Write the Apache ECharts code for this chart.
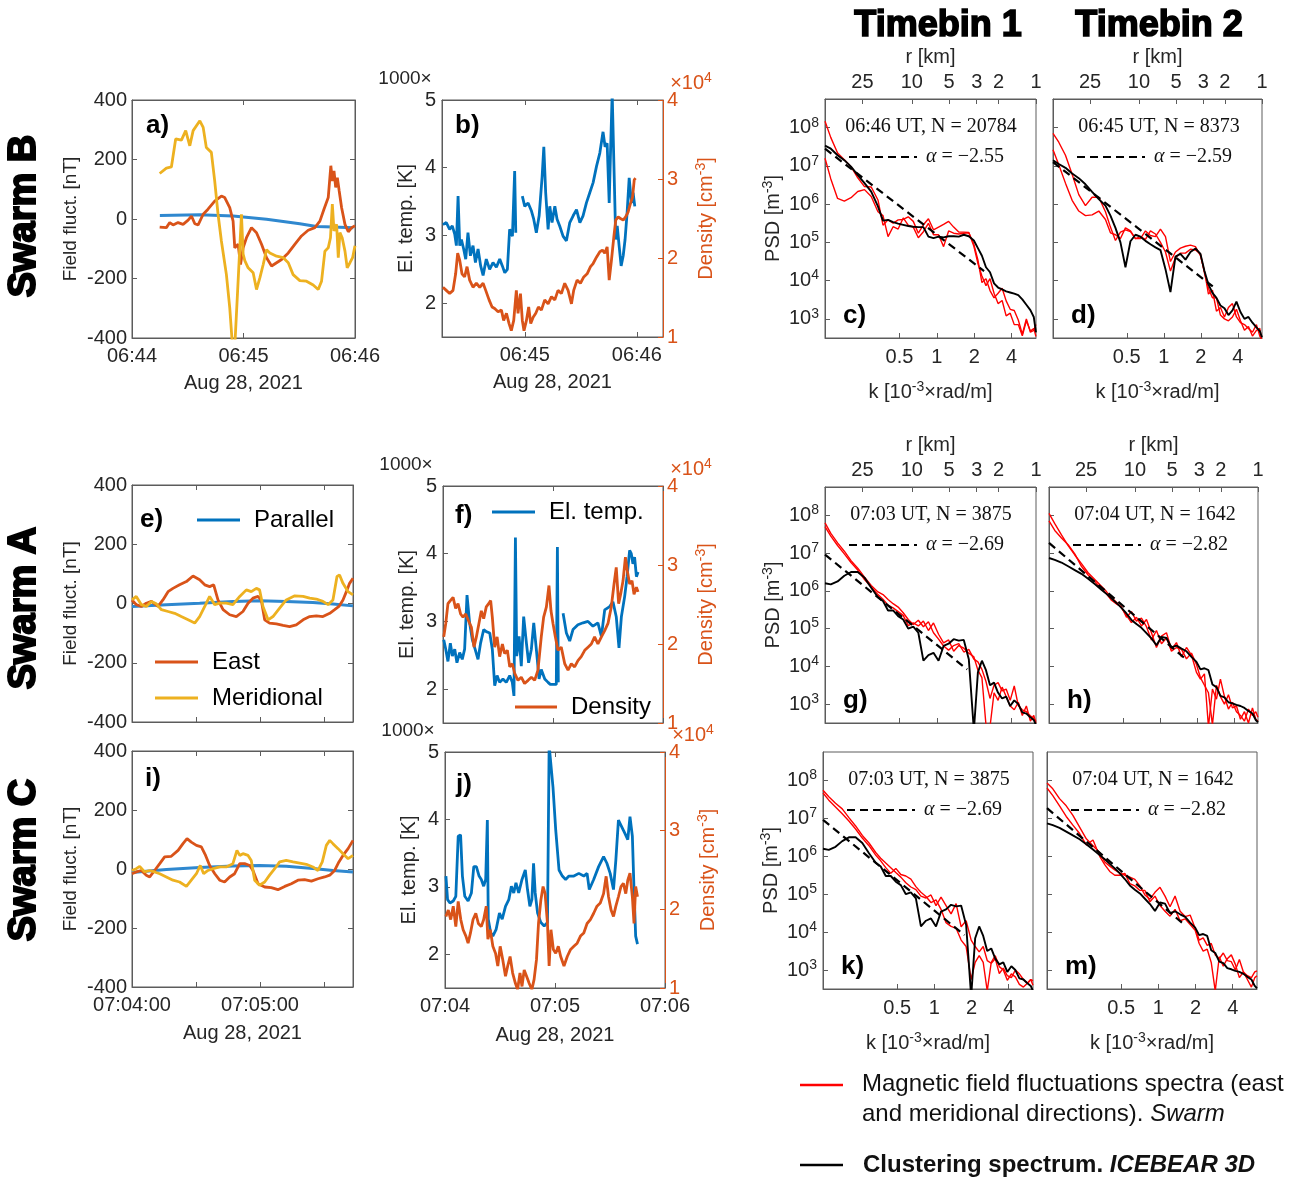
<!DOCTYPE html>
<html><head><meta charset="utf-8">
<script src="https://cdn.jsdelivr.net/npm/echarts@6/dist/echarts.min.js"></script>
<style>html,body{margin:0;padding:0;background:#fff}#main{width:1304px;height:1180px}</style>
</head><body><div id="main"></div>
<script>
// ---------------- DATA ----------------
const baseSwarmB = [6, 44];   // time axis origin (hh, mm), seconds offsets below
const baseSwarmAC = [7, 4];
const dateLabel = 'Aug 28, 2021';

// Panel a (Swarm B field fluctuations) [s after 06:44:00, nT]
const aParallel = [[15,12],[36.5,14],[54.4,10],[72.4,-1],[90.3,-16],[99.3,-25],[108.3,-27],[119.1,-29]];
const aEast = [[14.9,-27],[18.5,-29],[20.3,-12],[22.1,-20],[24.8,-12],[27.5,-18],[30.2,-4],[32.0,10],[33.8,-16],[35.6,-20],[38.3,16],[40.9,33],[44.5,60],[48.1,77],[49.9,72],[52.6,38],[54.4,-7],[55.3,-97],[57.1,-85],[58.4,-153],[59.8,-97],[61.6,-63],[64.3,-29],[67.0,-46],[69.7,-85],[72.4,-130],[75.1,-158],[77.8,-147],[80.5,-136],[84.1,-114],[87.6,-85],[91.2,-57],[94.8,-38],[98.4,-29],[101.1,-7],[103.3,33],[105.6,72],[107.0,179],[107.8,128],[108.7,162],[109.6,106],[110.5,139],[111.5,94],[112.8,38],[114.6,-18],[116.4,-43],[118.2,-29],[120.0,-23]];
const aMerid = [[14.9,153],[18.5,171],[21.2,175],[23.5,269],[26.6,265],[28.9,297],[31.1,246],[32.9,297],[36.5,330],[38.3,308],[40.0,240],[42.7,224],[44.5,128],[46.3,16],[48.1,-74],[50.8,-187],[52.6,-299],[54.1,-430],[55.3,-430],[57.1,-209],[58.9,16],[59.8,-118],[60.7,-140],[62.5,-164],[65.2,-181],[67.0,-237],[68.8,-198],[70.6,-153],[72.4,-103],[74.2,-114],[77.8,-125],[81.4,-130],[84.1,-147],[86.7,-187],[90.3,-207],[93.9,-209],[97.5,-222],[100.2,-237],[102.0,-209],[103.8,-108],[105.6,-97],[106.8,-63],[107.8,50],[108.7,-40],[110.1,-18],[111.0,-130],[111.9,-46],[113.1,-63],[114.6,-108],[115.8,-164],[117.3,-147],[118.7,-130],[120.0,-90]];

// Panel b (Swarm B) [s after 06:44:00, kK] and [s, 1e4 cm^-3]
const bTemp = [[16.2,3.16],[18.0,3.19],[19.8,3.09],[21.2,3.14],[22.5,3.02],[23.4,2.85],[24.3,3.58],[25.2,2.85],[26.1,2.94],[27.3,2.80],[28.4,2.65],[29.6,3.04],[30.9,2.70],[32.3,2.85],[33.6,2.60],[35.0,2.80],[36.4,2.55],[37.7,2.41],[39.4,2.65],[41.2,2.50],[43.0,2.60],[44.8,2.53],[46.6,2.65],[48.0,2.55],[49.3,2.45],[50.7,2.50],[51.9,3.09],[53.4,2.99],[54.6,3.95],[55.2,3.04],[56.5,null],[58.7,3.58],[60.0,3.43],[61.8,3.48],[63.6,3.36],[64.8,3.24],[66.2,3.04],[67.7,3.29],[69.3,3.87],[70.2,4.31],[71.2,3.63],[72.5,3.09],[73.4,3.43],[74.6,3.19],[76.1,3.43],[77.3,3.24],[78.7,3.14],[80.5,2.99],[82.3,2.92],[84.1,3.19],[85.9,3.29],[87.7,3.38],[89.5,3.19],[91.2,3.29],[93.0,3.48],[94.8,3.63],[96.6,3.78],[98.4,4.02],[100.2,4.22],[101.9,4.53],[103.0,4.31],[104.1,4.36],[105.2,3.48],[105.9,4.22],[106.8,5.1],[107.8,5.1],[108.7,2.94],[109.5,3.14],[110.5,2.85],[111.6,2.55],[112.7,2.70],[113.7,2.94],[114.8,3.34],[115.9,3.85],[117.1,3.48],[118.0,3.63],[118.9,3.43]];
const bDens = [[16.2,1.63],[18.0,1.59],[19.8,1.55],[21.6,1.59],[23.0,1.80],[24.1,2.06],[25.2,1.97],[26.4,1.80],[27.8,1.76],[29.1,1.89],[30.5,1.72],[32.3,1.63],[34.1,1.68],[35.9,1.63],[37.7,1.68],[39.1,1.59],[40.9,1.47],[42.5,1.38],[43.9,1.36],[45.7,1.32],[47.5,1.34],[48.7,1.21],[50.2,1.30],[51.6,1.17],[52.8,1.08],[54.1,1.21],[55.5,1.59],[56.4,1.30],[57.7,1.55],[58.7,1.21],[59.6,1.08],[60.9,1.21],[62.1,1.38],[63.2,1.17],[64.5,1.25],[65.9,1.30],[67.3,1.38],[68.9,1.34],[70.7,1.47],[72.5,1.42],[74.3,1.51],[76.1,1.47],[77.8,1.59],[79.6,1.55],[81.4,1.68],[83.2,1.59],[85.0,1.42],[86.2,1.59],[88.0,1.72],[89.8,1.68],[91.6,1.76],[93.4,1.80],[95.2,1.89],[96.6,1.93],[98.4,2.01],[100.2,2.08],[101.6,2.10],[102.8,2.06],[104.1,2.14],[105.2,1.72],[106.4,1.97],[107.7,2.27],[108.7,2.48],[110.0,2.52],[111.2,2.50],[112.7,2.48],[114.0,2.52],[115.3,2.58],[116.6,2.69],[117.7,2.77],[118.6,2.99],[119.3,3.01]];

// Panel e (Swarm A field) [s after 07:04:00, nT]
const eParallel = [[0,-10],[16.1,-4],[31.7,1],[47.3,7],[59.8,9],[72.3,7],[84.8,3],[94.2,-2],[103.6,-8]];
const eEast = [[0,12],[2.0,-4],[4.4,-10],[6.7,1],[9.1,7],[12.2,-10],[14.5,12],[16.9,40],[19.2,51],[22.3,63],[25.5,74],[28.6,93],[31.7,80],[34.1,63],[36.4,57],[38.3,63],[40.3,12],[42.7,-21],[45.8,-38],[48.9,-44],[52.0,-27],[54.4,1],[56.7,18],[59.1,24],[60.6,12],[62.2,-55],[64.5,-66],[67.7,-69],[70.8,-74],[73.9,-78],[77.0,-72],[80.2,-55],[83.3,-44],[86.4,-42],[89.5,-44],[92.7,-33],[95.0,-21],[97.0,-10],[98.9,12],[100.5,40],[102.0,68],[103.6,85]];
const eMerid = [[0,12],[2.0,24],[4.4,-4],[6.7,-10],[9.1,7],[11.4,-1],[13.8,-21],[16.9,-27],[20.0,-33],[23.1,-44],[26.3,-55],[29.4,-66],[31.7,-44],[34.1,-10],[36.4,24],[38.8,-4],[41.1,1],[44.2,1],[47.3,-4],[50.5,24],[53.6,46],[55.9,40],[58.3,51],[59.8,46],[61.4,-10],[63.8,-55],[66.1,-44],[69.2,-16],[72.3,12],[76.3,26],[80.2,24],[83.3,18],[86.4,15],[89.5,7],[91.9,-4],[94.2,12],[96.1,91],[97.3,96],[98.9,68],[101.3,40],[103.6,29]];

// Panel f (Swarm A) [s after 07:04:00]
const fTemp = [[0.4,2.73],[1.5,2.59],[2.7,2.41],[4.0,2.68],[5.1,2.49],[6.4,2.59],[7.6,2.39],[9.1,2.54],[10.5,2.44],[11.8,2.59],[13.1,3.39],[14.5,2.98],[16.0,2.73],[17.5,2.59],[19.1,2.44],[20.5,2.68],[22.2,2.88],[23.6,2.85],[25.5,2.83],[26.9,2.59],[28.2,2.05],[29.5,2.20],[30.9,2.10],[32.7,2.15],[34.5,2.10],[36.4,2.20],[37.8,2.10],[38.7,1.90],[39.5,4.24],[40.2,2.49],[41.5,2.78],[42.7,2.34],[44.0,3.07],[45.5,2.68],[46.7,2.39],[48.2,2.59],[49.5,2.98],[50.9,2.59],[52.4,2.15],[53.6,2.29],[55.5,2.15],[57.3,2.10],[58.5,2.07],[61.8,2.07],[62.4,4.10],[62.9,2.10],[63.5,null],[65.5,3.12],[67.3,2.83],[69.1,2.71],[70.9,2.88],[73.6,2.95],[76.4,2.98],[79.1,3.00],[81.8,2.93],[84.5,2.98],[86.4,2.78],[88.2,3.17],[90.9,3.22],[92.7,3.29],[94.5,3.07],[96.0,2.61],[97.3,3.07],[99.1,3.37],[100.4,3.66],[101.8,4.05],[102.7,4.00],[103.6,3.85],[104.5,3.95],[105.5,3.66],[106.4,3.73]];
const fDens = [[0.4,2.09],[1.5,2.26],[2.7,2.51],[4.0,2.55],[5.5,2.59],[6.9,2.45],[8.2,2.51],[9.6,2.38],[10.9,2.34],[12.4,2.38],[13.8,2.30],[15.5,2.21],[16.9,1.96],[18.2,2.09],[19.6,2.26],[20.9,2.42],[22.2,2.32],[23.6,2.47],[24.9,2.51],[26.0,2.55],[26.9,2.34],[28.2,1.96],[29.5,2.09],[30.9,1.84],[32.4,2.00],[33.6,1.88],[35.1,1.92],[36.4,1.71],[37.8,1.75],[39.1,1.63],[40.9,1.54],[42.7,1.58],[44.5,1.50],[46.4,1.54],[48.2,1.58],[50.0,1.54],[51.8,1.67],[53.6,2.09],[54.9,2.34],[56.4,2.47],[57.8,2.74],[58.9,2.42],[60.0,2.26],[61.3,2.09],[62.7,1.92],[64.5,1.96],[66.4,1.75],[68.2,1.67],[70.0,1.75],[71.8,1.71],[73.6,1.79],[75.4,1.84],[77.3,1.92],[79.1,1.96],[80.9,2.00],[82.7,2.09],[84.5,2.00],[86.4,2.09],[88.2,2.17],[90.0,2.26],[91.8,2.47],[93.3,2.76],[94.5,2.97],[95.8,2.51],[96.9,2.63],[98.2,2.80],[99.5,3.10],[100.5,2.93],[101.8,2.76],[103.1,2.80],[104.2,2.63],[105.5,2.72],[106.4,2.66]];

// Panel i (Swarm C field)
const iParallel = [[0,-12],[16.1,-2],[31.7,5],[47.3,10],[59.8,12],[72.3,9],[84.8,2],[94.2,-5],[103.6,-10]];
const iEast = [[0,-16],[2.0,-10],[4.4,-5],[6.7,-21],[8.3,-27],[10.6,-5],[13.0,18],[15.3,41],[18.4,43],[21.6,63],[23.9,86],[25.8,103],[27.8,91],[30.2,80],[32.5,75],[34.5,46],[36.4,12],[38.8,-16],[41.1,-38],[43.4,-44],[45.8,-27],[48.1,-16],[50.5,18],[52.8,18],[55.2,12],[56.7,-5],[59.1,-50],[62.2,-61],[65.3,-63],[68.4,-70],[71.6,-59],[74.7,-50],[77.8,-38],[80.9,-36],[84.1,-41],[87.2,-33],[90.3,-27],[92.7,-21],[95.0,-5],[97.0,24],[98.9,46],[101.3,69],[103.6,97]];
const iMerid = [[0,-5],[2.0,1],[3.6,9],[5.9,-10],[8.3,-5],[10.6,-10],[13.0,-16],[16.1,-27],[19.2,-38],[22.3,-44],[25.5,-59],[27.8,-38],[30.2,-16],[32.0,12],[33.6,-16],[35.6,-5],[38.0,1],[41.1,7],[44.2,7],[47.3,18],[49.2,63],[50.5,46],[52.0,52],[54.4,46],[55.9,29],[57.5,-38],[59.8,-55],[62.2,-44],[64.5,-21],[66.9,1],[69.2,24],[72.3,29],[75.5,24],[78.6,20],[81.7,16],[84.8,7],[87.2,-5],[89.2,24],[91.1,80],[92.7,97],[94.2,86],[96.6,69],[98.9,52],[101.3,35],[103.6,46]];

// Panel j (Swarm C)
const jTemp = [[0.5,3.16],[1.4,2.81],[2.7,2.76],[4.5,2.79],[5.9,2.86],[7.2,3.75],[8.5,3.77],[9.5,3.16],[10.8,2.86],[12.6,2.79],[14.4,2.91],[15.7,3.30],[17.1,3.30],[18.6,3.16],[19.8,3.11],[21.1,3.01],[22.2,3.11],[23.1,3.99],[23.6,2.52],[24.9,2.32],[26.1,2.27],[27.9,2.37],[29.7,2.61],[31.2,2.52],[33.0,2.71],[34.8,2.81],[36.2,3.01],[37.5,2.91],[38.7,3.06],[40.2,2.91],[42.0,3.11],[43.8,3.25],[45.0,2.96],[46.3,2.71],[47.4,2.81],[48.3,3.35],[49.2,2.91],[50.5,2.61],[52.3,2.47],[54.1,2.42],[55.9,2.47],[56.8,5.1],[57.7,5.1],[58.9,4.48],[60.4,3.84],[62.2,3.25],[64.0,3.16],[65.8,3.11],[67.6,3.16],[70.3,3.16],[73.0,3.20],[75.7,3.16],[77.5,3.20],[78.7,2.96],[81.1,3.11],[83.8,3.30],[86.5,3.45],[88.3,3.35],[90.1,3.20],[91.9,2.96],[93.2,3.40],[94.6,3.99],[96.4,3.89],[98.2,3.79],[99.7,3.70],[100.9,4.04],[102.2,3.75],[103.1,2.96],[104.0,2.27],[105.0,2.15]];
const jDens = [[0.5,1.91],[1.8,1.99],[3.1,1.87],[4.5,2.04],[5.9,1.78],[7.2,2.10],[8.6,1.87],[9.9,1.74],[11.4,1.66],[12.6,1.57],[13.9,1.70],[15.3,1.87],[16.8,1.95],[18.2,1.82],[19.8,1.78],[21.1,1.87],[22.5,2.04],[23.4,1.62],[24.7,1.74],[26.1,1.53],[27.6,1.44],[28.8,1.28],[30.1,1.53],[31.5,1.36],[33.0,1.15],[34.2,1.28],[35.5,1.40],[36.9,1.19],[38.4,1.06],[39.6,0.98],[40.9,1.19],[42.0,1.02],[43.2,1.23],[44.5,1.15],[45.9,1.06],[47.4,0.98],[48.6,1.11],[49.9,1.36],[51.0,1.82],[52.3,2.12],[53.5,2.29],[54.6,2.20],[55.9,1.82],[56.8,1.28],[57.8,1.74],[59.1,1.49],[60.4,1.44],[61.8,1.53],[63.1,1.40],[64.9,1.28],[66.7,1.40],[68.5,1.49],[70.3,1.53],[72.1,1.57],[73.9,1.66],[75.7,1.70],[77.5,1.82],[79.3,1.87],[81.1,1.95],[82.9,2.04],[84.7,2.08],[86.5,2.20],[87.9,2.42],[89.2,2.16],[90.6,1.99],[91.9,1.91],[93.2,2.04],[94.6,2.16],[96.0,2.29],[97.3,2.33],[98.6,2.20],[99.7,2.37],[100.9,2.46],[102.2,2.16],[103.1,1.82],[104.0,2.29],[105.0,2.16]];

// Spectra: wavenumber grid [1e-3 rad/m] and log10 PSD [m^-3]
const kGrid = [0.1257,0.1400,0.1587,0.1798,0.2036,0.2307,0.2614,0.2961,0.3355,0.3684,0.4046,0.4443,0.4879,0.5358,0.5883,0.6460,0.7093,0.7791,0.8555,0.9395,1.032,1.133,1.244,1.366,1.501,1.648,1.809,1.987,2.141,2.307,2.487,2.680,2.888,3.113,3.355,3.616,3.897,4.201,4.528,4.879,5.259,5.667,6.033,6.283];
const kTicks = [0.5, 1, 2, 4];
const rTicks = [25, 10, 5, 3, 2, 1];
const psdTicks = [1e3, 1e4, 1e5, 1e6, 1e7, 1e8];

const cIce = [7.53,7.45,7.28,7.15,6.98,6.76,6.55,6.33,5.94,5.57,5.59, 5.53,5.49,5.46,5.43,5.41,5.40,5.40,5.15,5.11,5.15,5.13, 5.16,5.16,5.15,5.20,5.16,5.05,4.85,4.65,4.35,4.22,3.93, 3.82,3.77,3.72,3.69,3.66,3.62,3.51,3.37,3.23,3.05,2.65];
const cMagE = [8.17,7.74,7.34,7.16,6.98,6.69,6.46,6.45,6.11,5.45,5.59, 5.50,5.59,5.60,5.67,5.55,5.24,5.46,5.62,5.33,5.40,5.47, 5.55,5.40,5.27,5.27,5.26,4.90,4.45,4.12,3.87,4.05,3.67, 3.40,3.48,3.08,3.15,2.85,2.85,2.56,2.95,2.68,2.75,2.54];
const cMagN = [7.20,6.66,6.15,6.08,6.17,6.33,6.38,6.20,5.80,5.70,5.15, 5.41,5.35,5.64,5.45,5.40,5.12,5.28,5.50,5.20,5.20,4.89, 5.30,5.24,5.22,5.24,5.25,4.95,4.54,3.95,4.05,3.74,3.55, 3.67,3.80,3.47,3.25,3.22,2.97,2.60,3.00,2.65,2.70,2.85];
const dIce = [7.15,7.05,6.95,6.80,6.68,6.52,6.32,6.13,5.96,5.70,5.38, 5.00,4.35,5.03,5.20,5.15,5.04,4.95,4.87,4.80,4.30,3.70, 4.63,4.70,4.55,4.75,4.84,4.70,4.25,3.90,3.68,3.55,3.35, 3.28,3.10,3.22,3.45,3.18,3.00,3.05,2.90,2.78,2.68,2.52];
const dMagE = [7.85,7.62,7.28,6.78,6.25,5.96,6.18,6.18,5.80,5.40,5.05, 5.27,5.33,5.28,5.10,5.10,5.30,5.18,5.15,5.35,5.15,4.50, 4.75,4.85,4.90,4.93,4.89,4.65,4.25,3.65,3.75,3.20,3.30, 3.05,3.30,3.40,3.05,2.90,2.85,2.75,2.65,2.85,2.55,2.45];
const dMagN = [7.42,7.03,6.55,6.10,5.82,5.70,5.72,5.82,5.60,5.25,5.20, 5.10,5.38,5.30,5.10,5.15,5.08,5.30,5.22,5.00,4.75,4.25, 4.60,4.72,4.72,4.82,4.80,4.70,4.20,3.80,3.55,3.55,3.10, 3.00,2.95,3.05,3.25,2.95,2.70,2.80,2.55,2.70,2.75,2.40];
const gIce = [6.20,6.17,6.25,6.40,6.50,6.50,6.35,6.08,5.83,5.73,5.48, 5.48,5.33,5.24,5.00,5.05,4.89,4.15,4.30,4.36,4.15,4.54, 4.60,4.72,4.68,4.70,4.19,2.30,3.84,4.15,3.90,3.50,3.57, 3.30,3.15,3.20,2.95,3.10,3.00,2.78,2.75,2.65,2.58,2.45];
const gMagE = [7.80,7.52,7.27,7.05,6.80,6.60,6.36,6.14,5.97,5.90,5.77, 5.66,5.57,5.42,5.24,5.11,5.22,5.05,5.18,4.89,4.72,4.54, 4.43,4.55,4.60,4.38,4.45,4.19,4.12,3.92,3.60,3.15,3.50, 3.57,3.35,3.40,3.10,3.48,2.96,2.85,2.80,2.69,2.62,2.55];
const gMagN = [7.70,7.45,7.20,6.98,6.75,6.55,6.30,6.10,5.90,5.78,5.62, 5.55,5.45,5.35,5.08,5.15,5.07,5.20,4.95,5.15,4.85,4.62, 4.70,4.40,4.55,4.48,4.35,4.25,3.90,3.70,2.45,2.40,3.30, 3.10,3.45,3.20,2.95,2.85,3.05,2.70,2.95,2.55,2.70,2.50];
const hIce = [6.87,6.82,6.75,6.65,6.55,6.45,6.32,6.18,6.03,5.92,5.80, 5.68,5.55,5.40,5.23,5.12,5.02,4.88,4.74,4.56,4.78,4.75, 4.50,4.55,4.47,4.40,4.25,4.12,3.92,3.95,3.90,3.52,3.45, 3.22,3.18,3.05,3.02,2.98,2.95,2.90,2.82,2.75,2.58,2.52];
const hMagE = [8.05,7.78,7.48,7.20,6.95,6.72,6.48,6.30,6.12,5.98,5.82, 5.70,5.55,5.35,5.16,5.30,5.07,5.24,4.89,4.50,4.80,4.89, 4.45,4.63,4.25,4.50,4.30,3.84,3.66,3.80,2.40,3.40,3.13, 3.66,3.20,2.87,3.05,2.80,2.70,2.55,2.87,2.70,2.80,2.65];
const hMagN = [7.85,7.60,7.40,7.22,6.98,6.65,6.42,6.25,6.05,5.92,5.75, 5.65,5.58,5.30,5.45,5.20,5.28,5.05,4.70,4.95,4.60,4.75, 4.40,4.50,4.45,4.20,4.35,4.05,3.70,3.50,3.30,2.45,3.50, 3.20,3.00,3.25,2.90,2.95,2.60,2.80,2.50,2.90,2.60,2.55];
const kMagE = [7.74,7.57,7.40,7.25,7.02,6.80,6.55,6.35,6.10,5.95,5.82, 5.70,5.57,5.45,5.30,5.19,5.12,4.95,4.90,4.98,4.70,4.92, 4.70,4.48,4.75,4.14,4.30,3.79,3.62,3.48,3.62,3.25,3.18, 3.30,2.91,3.05,2.85,2.80,3.00,2.90,2.75,2.65,2.75,2.72];
const kMagN = [7.67,7.48,7.30,7.12,6.93,6.72,6.48,6.28,6.03,5.88,5.70, 5.55,5.68,5.52,5.48,5.40,5.20,5.05,4.94,4.78,4.85,4.60, 4.25,4.15,4.10,3.79,3.62,2.75,3.20,3.38,3.20,2.45,3.20, 3.38,3.09,3.00,2.73,2.90,2.82,2.62,2.55,2.65,2.75,2.60];
const mMagE = [7.93,7.78,7.52,7.33,7.08,6.77,6.46,6.28,6.10,5.85,5.74, 5.64,5.56,5.50,5.45,5.39,5.22,4.98,4.87,5.05,5.18,4.95, 4.67,4.95,4.55,4.41,4.45,4.10,3.79,3.85,3.65,3.70,3.40, 3.30,3.45,3.25,3.22,3.00,3.28,2.95,2.85,2.80,2.95,2.98];
const mMagN = [7.80,7.60,7.33,7.05,6.82,6.60,6.30,6.43,6.00,5.78,5.60, 5.50,5.50,5.55,5.28,5.22,5.10,5.10,4.80,4.95,4.70,4.55, 4.42,4.60,4.30,4.35,4.20,4.05,3.70,3.50,3.55,3.20,2.45, 3.35,3.10,3.30,3.40,3.15,2.80,2.95,2.75,2.55,2.80,2.85];
// Power-law fits: [k, log10 PSD] endpoints
const fitT1a = [[0.1257,7.45],[2.40,4.25]];
const fitT2a = [[0.1257,7.10],[2.50,3.85]];
const fitT1b = [[0.1257,6.96],[1.754,3.92]];
const fitT2b = [[0.1257,7.27],[1.63,4.19]];
const specHeaders = ['06:46 UT, N = 20784','06:45 UT, N = 8373','07:03 UT, N = 3875','07:04 UT, N = 1642','07:03 UT, N = 3875','07:04 UT, N = 1642'];
const specAlphas = ['−2.55','−2.59','−2.69','−2.82','−2.69','−2.82'];

// ---------------- STYLE / BUILD ----------------
const AX = '#5c5c5c', TXT = '#262626';
const BLUE = '#0072BD', ORANGE = '#D95319', YELLOW = '#EDB120', PARBLUE = '#2f88cf', RED = '#ff0000';
const FONT = '"Liberation Sans", Arial, Helvetica, sans-serif';
const SERIF = '"Liberation Serif", "Times New Roman", serif';
const TWO_PI = 2 * Math.PI;
const kMin = TWO_PI / 50, kMax = TWO_PI * 1.0008;
const pad = n => String(n).padStart(2, '0');
function hm(base, v, secs) {
  const tot = base[0] * 3600 + base[1] * 60 + Math.round(v);
  const h = Math.floor(tot / 3600), m = Math.floor((tot % 3600) / 60), s = tot % 60;
  return secs ? pad(h) + ':' + pad(m) + ':' + pad(s) : pad(h) + ':' + pad(m);
}

const grid = [], xAxis = [], yAxis = [], series = [], graphic = [];
const SUPR = {fontSize: 14, fontFamily: FONT, padding: [0, 0, 10, 0]};
const nameStyle = {fontSize: 20, color: TXT, fontFamily: FONT, rich: {s: Object.assign({color: TXT}, SUPR)}};
const yNameStyle = Object.assign({}, nameStyle, {fontSize: 19});
const lblStyle = {fontSize: 20, color: TXT, fontFamily: FONT};

function addGrid(l, t, w, h) {
  grid.push({left: l, top: t, width: w, height: h, show: true, borderColor: AX, borderWidth: 1,
    backgroundColor: 'transparent', containLabel: false, outerBoundsMode: 'none'});
  return grid.length - 1;
}
function line(xi, yi, data, color, width, dash) {
  return {type: 'line', xAxisIndex: xi, yAxisIndex: yi, data: data, showSymbol: false, symbol: 'none',
    clip: true, silent: true, animation: false, connectNulls: false,
    lineStyle: {color: color, width: width, type: dash || 'solid'}, itemStyle: {color: color},
    emphasis: {disabled: true}};
}
function addTimeX(gi, o) {
  const idx = xAxis.length;
  xAxis.push({type: 'value', gridIndex: gi, min: o.min, max: o.max, position: 'bottom',
    axisLine: {show: true, onZero: false, lineStyle: {color: AX}},
    axisTick: {show: true, inside: true, length: 5, customValues: o.ticks, lineStyle: {color: AX}},
    axisLabel: Object.assign({show: !!o.labels, customValues: o.labels || [], margin: 8,
      formatter: v => hm(o.base, v, o.secs)}, lblStyle),
    splitLine: {show: false},
    name: o.name || '', nameLocation: 'middle', nameGap: o.nameGap || 35, nameTextStyle: nameStyle});
  xAxis.push({type: 'value', gridIndex: gi, min: o.min, max: o.max, position: 'top',
    axisLine: {show: true, onZero: false, lineStyle: {color: AX}},
    axisTick: {show: true, inside: true, length: 5, customValues: o.ticks, lineStyle: {color: AX}},
    axisLabel: {show: false}, splitLine: {show: false}});
  return idx;
}
function addField(rect, xo, par, east, mer) {
  const gi = addGrid.apply(null, rect);
  const xi = addTimeX(gi, xo);
  const yi = yAxis.length;
  yAxis.push({type: 'value', gridIndex: gi, min: -400, max: 400, interval: 200, position: 'left',
    axisLine: {show: true, onZero: false, lineStyle: {color: AX}},
    axisTick: {inside: true, length: 5, lineStyle: {color: AX}},
    axisLabel: Object.assign({margin: 5}, lblStyle), splitLine: {show: false},
    name: 'Field fluct. [nT]', nameLocation: 'middle', nameGap: 52, nameTextStyle: yNameStyle});
  yAxis.push({type: 'value', gridIndex: gi, min: -400, max: 400, interval: 200, position: 'right',
    axisLine: {show: true, onZero: false, lineStyle: {color: AX}},
    axisTick: {inside: true, length: 5, lineStyle: {color: AX}}, axisLabel: {show: false}, splitLine: {show: false}});
  series.push(line(xi, yi, par, PARBLUE, 3));
  series.push(line(xi, yi, east, ORANGE, 2.8));
  series.push(line(xi, yi, mer, YELLOW, 2.8));
}
function addTD(rect, xo, temp, dens) {
  const gi = addGrid.apply(null, rect);
  const xi = addTimeX(gi, xo);
  const yi = yAxis.length;
  yAxis.push({type: 'value', gridIndex: gi, min: 1.5, max: 5, position: 'left',
    axisLine: {show: true, onZero: false, lineStyle: {color: AX}},
    axisTick: {inside: true, length: 5, customValues: [2, 3, 4, 5], lineStyle: {color: AX}},
    axisLabel: Object.assign({margin: 6, customValues: [2, 3, 4, 5]}, lblStyle), splitLine: {show: false},
    name: 'El. temp. [K]', nameLocation: 'middle', nameGap: 26, nameTextStyle: nameStyle});
  yAxis.push({type: 'value', gridIndex: gi, min: 1, max: 4, interval: 1, position: 'right',
    axisLine: {show: true, onZero: false, lineStyle: {color: ORANGE}},
    axisTick: {inside: true, length: 5, lineStyle: {color: ORANGE}},
    axisLabel: {margin: 4, fontSize: 20, color: ORANGE, fontFamily: FONT}, splitLine: {show: false},
    name: 'Density [cm{s|-3}]', nameLocation: 'middle', nameGap: 31,
    nameTextStyle: {fontSize: 20, color: ORANGE, fontFamily: FONT, rich: {s: Object.assign({color: ORANGE}, SUPR)}}});
  series.push(line(xi, yi, temp, BLUE, 2.8));
  series.push(line(xi, yi + 1, dens, ORANGE, 2.8));
  // MATLAB exponent labels
  txt(rect[0] - 37, rect[1] - 21, '1000×', {size: 19, color: TXT, align: 'center'});
  txt(rect[0] + rect[2] + 28, rect[1] - 17, '{n|×10}{s|4}', {size: 20, color: ORANGE, align: 'center',
    rich: {n: {fontSize: 20, fontFamily: FONT, fill: ORANGE}, s: Object.assign({fill: ORANGE}, SUPR)}});
}
const logPts = arr => kGrid.map((k, i) => [k, Math.pow(10, arr[i])]);
const fitPts = f => f.map(p => [p[0], Math.pow(10, p[1])]);
function addSpec(rect, o, n) {
  const gi = addGrid.apply(null, rect);
  const xi = xAxis.length;
  xAxis.push({type: 'log', logBase: 10, gridIndex: gi, min: kMin, max: kMax, position: 'bottom',
    axisLine: {show: true, onZero: false, lineStyle: {color: AX}},
    axisTick: {show: true, inside: true, length: 5, customValues: kTicks, lineStyle: {color: AX}},
    axisLabel: Object.assign({show: !!o.bottom, customValues: kTicks, margin: 9,
      formatter: v => String(+(+v).toPrecision(3))}, lblStyle),
    splitLine: {show: false}, minorTick: {show: false},
    name: o.bottom ? 'k [10{s|-3}×rad/m]' : '', nameLocation: 'middle', nameGap: 42, nameTextStyle: nameStyle});
  if (o.top) {
    const rk = rTicks.map(r => TWO_PI / r);
    xAxis.push({type: 'log', logBase: 10, gridIndex: gi, min: kMin, max: kMax, position: 'top',
      axisLine: {show: true, onZero: false, lineStyle: {color: AX}},
      axisTick: {show: true, inside: true, length: 5, customValues: rk, lineStyle: {color: AX}},
      axisLabel: Object.assign({customValues: rk, margin: 7, formatter: v => String(Math.round(TWO_PI / v))}, lblStyle),
      splitLine: {show: false}, minorTick: {show: false},
      name: 'r [km]', nameLocation: 'middle', nameGap: 32, nameTextStyle: nameStyle});
  }
  const yi = yAxis.length;
  yAxis.push({type: 'log', logBase: 10, gridIndex: gi, min: Math.pow(10, 2.5), max: Math.pow(10, 8.75), position: 'left',
    axisLine: {show: true, onZero: false, lineStyle: {color: AX}},
    axisTick: {show: true, inside: true, length: 5, customValues: psdTicks, lineStyle: {color: AX}},
    axisLabel: Object.assign({show: !!o.left, customValues: psdTicks, margin: 6,
      formatter: v => '10{s|' + Math.round(Math.log10(v)) + '}',
      rich: {s: Object.assign({color: TXT}, SUPR)}}, lblStyle),
    splitLine: {show: false}, minorTick: {show: false},
    name: o.left ? 'PSD [m{s|-3}]' : '', nameLocation: 'middle', nameGap: 40, nameTextStyle: nameStyle});
  series.push(line(xi, yi, logPts(o.e), RED, 1.4));
  series.push(line(xi, yi, logPts(o.n), RED, 1.4));
  series.push(line(xi, yi, logPts(o.ice), '#000', 1.9));
  series.push(line(xi, yi, fitPts(o.fit), '#000', 2.2, [8, 5]));
  // in-plot annotation
  const L = rect[0], T = rect[1];
  txt(L + 106, T + 28, specHeaders[n], {size: 20, family: SERIF, color: '#111', align: 'center'});
  seg(L + 24, T + 58, L + 92, T + 58, '#000', 2.2, [8, 5]);
  txt(L + 101, T + 58, '{i|α} = ' + specAlphas[n], {size: 20, family: SERIF, color: '#111',
    rich: {i: {fontStyle: 'italic', fontSize: 20, fontFamily: SERIF, fill: '#111'}}});
  txt(L + 18, T + rect[3] - 22, o.tag, {size: 26, weight: 'bold', color: '#000'});
}
function txt(x, y, text, o) {
  o = o || {};
  const st = {text: text, fontSize: o.size || 18, fontWeight: o.weight || 'normal', fontStyle: o.style || 'normal',
    fontFamily: o.family || FONT, fill: o.color || '#000', align: o.align || 'left', verticalAlign: o.va || 'middle'};
  if (o.rich) st.rich = o.rich;
  if (o.stroke) { st.stroke = o.stroke; st.lineWidth = o.strokeW || 1; }
  graphic.push({type: 'text', x: x, y: y, rotation: o.rot || 0, silent: true, z: 100, style: st});
}
function seg(x1, y1, x2, y2, color, w, dash) {
  graphic.push({type: 'line', silent: true, z: 100, shape: {x1: x1, y1: y1, x2: x2, y2: y2},
    style: {stroke: color, lineWidth: w, lineDash: dash || null}});
}

// --- time-series panels ---
addField([132, 100, 223, 238], {min: 0, max: 120, ticks: [0, 60, 120], labels: [0, 60, 120], base: baseSwarmB, name: dateLabel, nameGap: 35}, aParallel, aEast, aMerid);
addTD([442, 100, 221, 237], {min: 15.7, max: 134, ticks: [60, 120], labels: [60, 120], base: baseSwarmB, name: dateLabel, nameGap: 35}, bTemp, bDens);
addField([132, 485, 221, 237], {min: 0, max: 103.6, ticks: [0, 30, 60, 90], base: baseSwarmAC}, eParallel, eEast, eMerid);
addTD([443, 486, 220, 237], {min: 0, max: 120, ticks: [0, 60, 120], base: baseSwarmAC}, fTemp, fDens);
addField([132, 751, 221, 236], {min: 0, max: 103.6, ticks: [0, 30, 60, 90], labels: [0, 60], secs: true, base: baseSwarmAC, name: dateLabel, nameGap: 36}, iParallel, iEast, iMerid);
addTD([445, 752, 220, 236], {min: 0, max: 120, ticks: [0, 60, 120], labels: [0, 60, 120], base: baseSwarmAC, name: dateLabel, nameGap: 37}, jTemp, jDens);

// --- spectra panels ---
addSpec([825, 99, 211, 239], {top: true, bottom: true, left: true, e: cMagE, n: cMagN, ice: cIce, fit: fitT1a, tag: 'c)'}, 0);
addSpec([1053, 99, 209, 239], {top: true, bottom: true, left: false, e: dMagE, n: dMagN, ice: dIce, fit: fitT2a, tag: 'd)'}, 1);
addSpec([825, 487, 211, 236], {top: true, bottom: false, left: true, e: gMagE, n: gMagN, ice: gIce, fit: fitT1b, tag: 'g)'}, 2);
addSpec([1049, 487, 209, 236], {top: true, bottom: false, left: false, e: hMagE, n: hMagN, ice: hIce, fit: fitT2b, tag: 'h)'}, 3);
addSpec([823, 752, 210, 237], {top: false, bottom: true, left: true, e: kMagE, n: kMagN, ice: gIce, fit: fitT1b, tag: 'k)'}, 4);
addSpec([1047, 752, 210, 237], {top: false, bottom: true, left: false, e: mMagE, n: mMagN, ice: hIce, fit: fitT2b, tag: 'm)'}, 5);

// --- panel letters ---
[['a)', 146, 126], ['b)', 455, 126], ['e)', 140, 520], ['f)', 455, 516], ['i)', 145, 779], ['j)', 456, 785]]
  .forEach(p => txt(p[1], p[2], p[0], {size: 26, weight: 'bold'}));

// --- legends inside e and f ---
seg(197, 520, 240, 520, BLUE, 3); txt(254, 520, 'Parallel', {size: 24});
seg(155, 662, 198, 662, ORANGE, 3); txt(212, 662, 'East', {size: 24});
seg(155, 698, 198, 698, YELLOW, 3); txt(212, 698, 'Meridional', {size: 24});
seg(492, 512, 535, 512, BLUE, 3); txt(549, 512, 'El. temp.', {size: 24});
seg(515, 707, 557, 707, ORANGE, 3); txt(571, 707, 'Density', {size: 24});

// --- row / column titles ---
txt(25, 216, 'Swarm B', {size: 38, weight: 'bold', rot: Math.PI / 2, align: 'center', stroke: '#000', strokeW: 2});
txt(25, 608, 'Swarm A', {size: 38, weight: 'bold', rot: Math.PI / 2, align: 'center', stroke: '#000', strokeW: 2});
txt(25, 860, 'Swarm C', {size: 38, weight: 'bold', rot: Math.PI / 2, align: 'center', stroke: '#000', strokeW: 2});
txt(938, 26, 'Timebin 1', {size: 36, weight: 'bold', align: 'center', stroke: '#000', strokeW: 1.6});
txt(1159, 26, 'Timebin 2', {size: 36, weight: 'bold', align: 'center', stroke: '#000', strokeW: 1.6});

// --- spectra legend ---
seg(800, 1085, 843, 1085, RED, 2.5);
txt(862, 1084, 'Magnetic field fluctuations spectra (east', {size: 24, color: '#111'});
txt(862, 1114, '{n|and meridional directions). }{i|Swarm}', {size: 24, color: '#111',
  rich: {n: {fontSize: 24, fontFamily: FONT, fill: '#111'}, i: {fontSize: 24, fontFamily: FONT, fontStyle: 'italic', fill: '#111'}}});
seg(800, 1165, 843, 1165, '#000', 2.5);
txt(863, 1165, '{b|Clustering spectrum. }{i|ICEBEAR 3D}', {size: 24, color: '#111',
  rich: {b: {fontSize: 24, fontFamily: FONT, fontWeight: 'bold', fill: '#111'}, i: {fontSize: 24, fontFamily: FONT, fontStyle: 'italic', fontWeight: 'bold', fill: '#111'}}});

const chart = echarts.init(document.getElementById('main'), null, {renderer: 'canvas'});
chart.setOption({animation: false, backgroundColor: '#fff', grid: grid, xAxis: xAxis, yAxis: yAxis, series: series, graphic: graphic});
</script></body></html>
